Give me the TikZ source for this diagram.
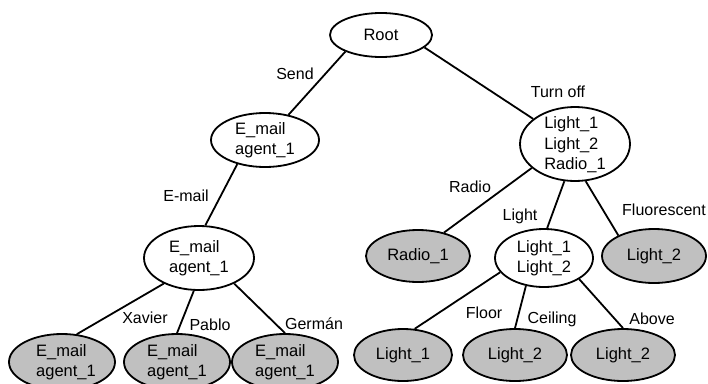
\documentclass[tikz,border=0pt]{standalone}
\usepackage{fontspec}
\setmainfont{Liberation Sans}
\usetikzlibrary{shapes.geometric}
\definecolor{leafgray}{RGB}{192,192,192}
\tikzset{
  base/.style={ellipse, draw=black, line width=1.8pt, inner sep=0pt},
  wnode/.style={base, fill=white},
  gnode/.style={base, fill=leafgray},
  txt/.style={inner sep=0pt, align=left, font=\fontsize{16.5}{20.5}\selectfont},
  lbl/.style={inner sep=0pt, font=\fontsize{16}{20}\selectfont},
  edge/.style={line width=1.8pt}
}
\begin{document}
\begin{tikzpicture}[x=1pt,y=-1pt]
\useasboundingbox (0,0) rectangle (708,383);
\clip (0,0) rectangle (708,383);

% ellipses
\node[wnode, minimum width=102, minimum height=44] (root) at (381,35) {};
\node[wnode, minimum width=108, minimum height=54] (em1) at (265,140) {};
\node[wnode, minimum width=110, minimum height=64] (em2) at (199,258) {};
\node[gnode, minimum width=106, minimum height=56] (la) at (62,362) {};
\node[gnode, minimum width=106, minimum height=56] (lb) at (177,362) {};
\node[gnode, minimum width=106, minimum height=56] (lc) at (285,362) {};
\node[wnode, minimum width=110, minimum height=74] (to) at (575,144) {};
\node[gnode, minimum width=104, minimum height=52] (ra) at (418,256) {};
\node[wnode, minimum width=98, minimum height=58] (mid) at (544,258) {};
\node[gnode, minimum width=104, minimum height=54] (fl) at (654,256) {};
\node[gnode, minimum width=98, minimum height=52] (ba) at (403,355) {};
\node[gnode, minimum width=104, minimum height=52] (bb) at (515,355) {};
\node[gnode, minimum width=104, minimum height=52] (bc) at (623,355) {};

% texts inside the ellipses
\node[txt] (root-t) at (root) {Root};
\node[txt] (em1-t) at (em1) {E\_mail\\agent\_1};
\node[txt] (em2-t) at (em2) {E\_mail\\agent\_1};
\node[txt] (la-t) at ([xshift=4]la) {E\_mail\\agent\_1};
\node[txt] (lb-t) at (lb) {E\_mail\\agent\_1};
\node[txt] (lc-t) at (lc) {E\_mail\\agent\_1};
\node[txt] (to-t) at ([yshift=-1]to) {Light\_1\\Light\_2\\Radio\_1};
\node[txt] (ra-t) at (ra) {Radio\_1};
\node[txt] (mid-t) at (mid) {Light\_1\\Light\_2};
\node[txt] (fl-t) at (fl) {Light\_2};
\node[txt] (ba-t) at (ba) {Light\_1};
\node[txt] (bb-t) at (bb) {Light\_2};
\node[txt] (bc-t) at (bc) {Light\_2};

% connectors
\draw[edge] (root.205) -- (em1.47);
\draw[edge] (root.344) -- (to.149);
\draw[edge] (em1.221) -- (em2.79);
\draw[edge] (em2.216) -- (la.62);
\draw[edge] (em2.261) -- (lb.90);
\draw[edge] (em2.324) -- (lc.90);
\draw[edge] (to.209) -- (ra.42);
\draw[edge] (to.254) -- (mid.84);
\draw[edge] (to.286) -- (fl.150);
\draw[edge] (mid.198) -- (ba.66);
\draw[edge] (mid.237) -- (bb.90);
\draw[edge] (mid.329) -- (bc.90);

% connector labels
\node[lbl] (l-send) at (295,74) {Send};
\node[lbl] (l-turn) at (558,92) {Turn off};
\node[lbl] (l-email) at (186,196) {E-mail};
\node[lbl] (l-radio) at (470,187) {Radio};
\node[lbl] (l-light) at (520,216) {Light};
\node[lbl] (l-fluo) at (664,210) {Fluorescent};
\node[lbl] (l-xav) at (145,318) {Xavier};
\node[lbl] (l-pab) at (210,325) {Pablo};
\node[lbl] (l-ger) at (314,324) {Germán};
\node[lbl] (l-floor) at (484,313) {Floor};
\node[lbl] (l-ceil) at (552,319) {Ceiling};
\node[lbl] (l-above) at (652,319) {Above};
\end{tikzpicture}
\end{document}
